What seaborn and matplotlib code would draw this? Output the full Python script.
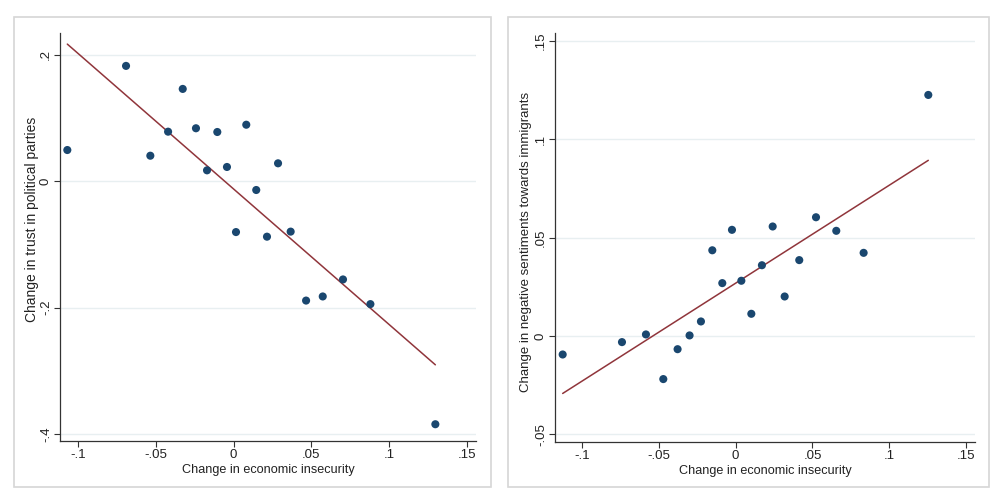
import numpy as np
import pandas as pd
import matplotlib
matplotlib.use("Agg")
import matplotlib.pyplot as plt
import seaborn as sns
from matplotlib.patches import Rectangle

# ---- data ----
trust_x = [-0.1067, -0.0690, -0.0534, -0.0420, -0.0326, -0.0241, -0.0170, -0.0104,
           -0.0042, 0.0082, 0.0016, 0.0146, 0.0215, 0.0286, 0.0367, 0.0466,
           0.0573, 0.0703, 0.0879, 0.1296]
trust_y = [0.049, 0.182, 0.040, 0.078, 0.1456, 0.0834, 0.0169, 0.0775,
           0.0222, 0.089, -0.0807, -0.0142, -0.088, 0.028, -0.080, -0.189,
           -0.1825, -0.1556, -0.1946, -0.3845]

imm_x = [0.1254, -0.0024, 0.0241, 0.0523, 0.0655, -0.0152, 0.0833, -0.0087,
         0.0037, 0.0171, 0.0414, 0.0319, 0.0102, -0.0226, -0.0300, -0.0378,
         -0.0584, -0.0740, -0.1126, -0.0471]
imm_y = [0.1225, 0.0539, 0.0556, 0.0603, 0.0534, 0.0435, 0.0422, 0.0268,
         0.0280, 0.0359, 0.0385, 0.0200, 0.0112, 0.0073, 0.0002, -0.0068,
         0.0007, -0.0032, -0.0095, -0.0220]

x_ticks = [-0.1, -0.05, 0, 0.05, 0.1, 0.15]
x_ticklabels = ["-.1", "-.05", "0", ".05", ".1", ".15"]
trust_yticks = [-0.4, -0.2, 0, 0.2]
trust_yticklabels = ["-.4", "-.2", "0", ".2"]
imm_yticks = [-0.05, 0, 0.05, 0.1, 0.15]
imm_yticklabels = ["-.05", "0", ".05", ".1", ".15"]

xlabel = "Change in economic insecurity"
trust_ylabel = "Change in trust in political parties"
imm_ylabel = "Change in negative sentiments towards immigrants"

# ---- style ----
sns.set_theme(style="white")
plt.rcParams['font.family'] = ['Liberation Sans', 'DejaVu Sans']

marker_color = "#1a476f"
line_color = "#90353b"
grid_color = "#e8eff1"
axis_color = "#333333"
text_color = "#222222"

fig = plt.figure(figsize=(10, 5), dpi=100)

# panel frames
for x0, w in [(0.014, 0.477), (0.508, 0.481)]:
    fig.patches.append(Rectangle((x0, 0.026), w, 0.94, transform=fig.transFigure,
                                 fill=False, edgecolor="#d6d6d6", linewidth=1.2))

ax1 = fig.add_axes([0.060, 0.118, 0.416, 0.816])
ax2 = fig.add_axes([0.555, 0.116, 0.420, 0.818])

df1 = pd.DataFrame({"x": trust_x, "y": trust_y})
df2 = pd.DataFrame({"x": imm_x, "y": imm_y})

def draw(ax, df, yticks, yticklabels, ylabel, xlim, ylim, ylab_size, ylab_xy):
    for yt in yticks:
        ax.axhline(yt, color=grid_color, linewidth=1.0, zorder=0)
    sns.regplot(data=df, x="x", y="y", ax=ax, ci=None, truncate=True,
                scatter_kws=dict(s=34, color=marker_color, edgecolor="none",
                                 alpha=1.0, zorder=3),
                line_kws=dict(color=line_color, linewidth=1.1, zorder=2))
    ax.set_xlim(*xlim)
    ax.set_ylim(*ylim)
    ax.set_xticks(x_ticks)
    ax.set_xticklabels(x_ticklabels)
    ax.set_yticks(yticks)
    ax.set_yticklabels(yticklabels, rotation=90, va="center")
    ax.set_xlabel(xlabel, fontsize=9.1, color=text_color, labelpad=2)
    ax.set_ylabel(ylabel, fontsize=ylab_size, color=text_color)
    ax.yaxis.set_label_coords(*ylab_xy)
    ax.tick_params(axis="both", which="major", direction="out", length=4.3, width=0.8,
                   color=axis_color, labelsize=9.5, labelcolor=text_color, pad=1.5,
                   bottom=True, left=True)
    for s in ["top", "right"]:
        ax.spines[s].set_visible(False)
    for s in ["left", "bottom"]:
        ax.spines[s].set_color(axis_color)
        ax.spines[s].set_linewidth(0.9)
    ax.set_facecolor("white")
    ax.grid(False)

draw(ax1, df1, trust_yticks, trust_yticklabels, trust_ylabel,
     (-0.1114, 0.1557), (-0.411, 0.234), 10, (-0.050, 0.542))
draw(ax2, df2, imm_yticks, imm_yticklabels, imm_ylabel,
     (-0.1176, 0.1558), (-0.054, 0.154), 9.5, (-0.054, 0.489))

fig.savefig("out.png", dpi=100, facecolor="white")
